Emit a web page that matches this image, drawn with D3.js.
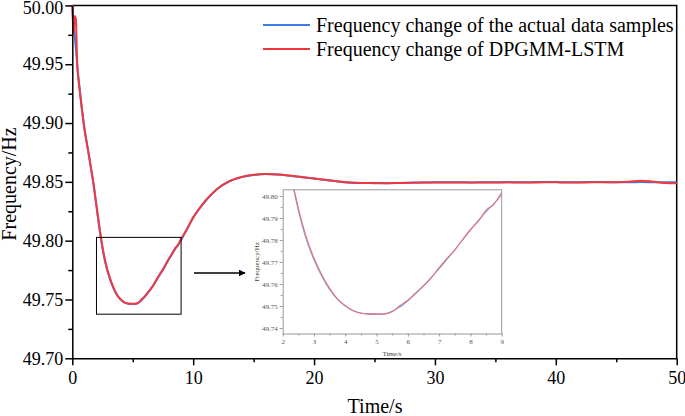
<!DOCTYPE html>
<html>
<head>
<meta charset="utf-8">
<style>
  body { margin: 0; background: #fff; }
  svg { display: block; font-family: "Liberation Serif", "Times New Roman", serif; }
  .axis path, .axis line { stroke: #000; stroke-width: 1.5; }
  .axis text { font-size: 18px; fill: #000; font-family: "Liberation Serif", serif; }
  .inset path, .inset line { stroke: #999; stroke-width: 1; }
  .inset text { font-size: 7px; fill: #555; font-family: "Liberation Serif", serif; }
</style>
</head>
<body>
<svg width="685" height="416"></svg>
<script src="https://cdn.jsdelivr.net/npm/d3@7"></script>
<script>
// time axis (s)
var time = [0, 0.1, 0.2, 0.3, 0.4, 0.6, 0.8, 1, 1.25, 1.5, 1.75, 2, 2.25, 2.5, 2.75, 3, 3.25, 3.5, 3.75, 4,
  4.25, 4.5, 4.75, 5, 5.25, 5.5, 5.75, 6, 6.25, 6.5, 6.75, 7, 7.25, 7.5, 7.75, 8, 8.25, 8.5, 8.75, 9,
  9.5, 10, 10.5, 11, 12, 13, 14, 15, 16, 17, 18, 19, 20, 21, 22, 23, 24, 25, 26, 27, 28, 29, 30,
  31, 32, 33, 34, 35, 36, 37, 38, 39, 40, 41, 42, 43, 44, 45, 46, 47, 48, 49, 50];

// actual data samples
var actual = [50.000, 49.984, 49.974, 49.963, 49.950, 49.930, 49.912, 49.896, 49.880, 49.864, 49.848, 49.829, 49.810,
  49.7935, 49.7805, 49.7710, 49.7635, 49.7575, 49.7530, 49.7500, 49.7480, 49.7468, 49.7463, 49.7462, 49.7464,
  49.7476, 49.7496, 49.7524, 49.7556, 49.7592, 49.7630, 49.7670, 49.7712, 49.7755, 49.7800, 49.7845, 49.7888,
  49.7928, 49.7965, 49.8005, 49.8100, 49.8195, 49.8270, 49.8335, 49.8440, 49.8505, 49.8540, 49.8558, 49.8566,
  49.8562, 49.8552, 49.8540, 49.8528, 49.8515, 49.8502, 49.8493, 49.8490, 49.8490, 49.8489, 49.8490, 49.8493,
  49.8495, 49.8496, 49.8497, 49.8496, 49.8495, 49.8496, 49.8497, 49.8497, 49.8496, 49.8497, 49.8499, 49.8498,
  49.8497, 49.8497, 49.8499, 49.8498, 49.8497, 49.8497, 49.8498, 49.8497, 49.8496, 49.8496];

// DPGMM-LSTM prediction
var predicted = [50.000, 49.976, 49.991, 49.988, 49.952, 49.929, 49.911, 49.895, 49.880, 49.865, 49.849, 49.830, 49.811,
  49.7945, 49.7815, 49.7718, 49.7642, 49.7580, 49.7532, 49.7502, 49.7478, 49.7467, 49.7464, 49.7464, 49.7463,
  49.7474, 49.7502, 49.7526, 49.7560, 49.7590, 49.7628, 49.7674, 49.7716, 49.7754, 49.7802, 49.7848, 49.7884,
  49.7936, 49.7962, 49.8015, 49.8100, 49.8198, 49.8272, 49.8338, 49.8442, 49.8507, 49.8542, 49.8560, 49.8567,
  49.8563, 49.8553, 49.8541, 49.8529, 49.8516, 49.8503, 49.8494, 49.8490, 49.8489, 49.8488, 49.8490, 49.8492,
  49.8494, 49.8495, 49.8494, 49.8494, 49.8495, 49.8494, 49.8495, 49.8496, 49.8495, 49.8495, 49.8496, 49.8496,
  49.8495, 49.8495, 49.8496, 49.8496, 49.8496, 49.8500, 49.8510, 49.8502, 49.8490, 49.8488];

var xTicks = [0, 10, 20, 30, 40, 50];
var yTicks = [49.70, 49.75, 49.80, 49.85, 49.90, 49.95, 50.00];
var insetXTicks = [2, 3, 4, 5, 6, 7, 8, 9];
var insetYTicks = [49.74, 49.75, 49.76, 49.77, 49.78, 49.79, 49.80];
var zoomBox = { t0: 2, t1: 9, f0: 49.7375, f1: 49.8028 };

var seriesNames = ["Frequency change of the actual data samples", "Frequency change of DPGMM-LSTM"];
var colors = ["#3b7ce6", "#f0393f"];
var insetColors = ["#6b9ff0", "#f07070"];

var svg = d3.select("svg");

var x = d3.scaleLinear().domain([0, 50]).range([72.3, 676.7]),
    y = d3.scaleLinear().domain([49.70, 50.00]).range([358.3, 5.4]);

var series = [actual, predicted].map(function(vals) {
  return vals.map(function(v, i) { return { t: time[i], f: v }; });
});

var line = d3.line()
  .x(function(d) { return x(d.t); })
  .y(function(d) { return y(d.f); })
  .curve(d3.curveMonotoneX);

// frame (top + right)
svg.append("path")
  .attr("d", "M" + x(0) + "," + y(50) + "H" + x(50) + "V" + y(49.70))
  .attr("fill", "none").attr("stroke", "#000").attr("stroke-width", 1.5);

svg.selectAll(".main-line")
  .data(series)
  .enter().append("path")
  .attr("class", "main-line")
  .attr("fill", "none")
  .attr("stroke", function(d, i) { return colors[i]; })
  .attr("stroke-width", 2)
  .attr("d", line);

// minor ticks
svg.append("g").attr("class", "axis")
  .attr("transform", "translate(0," + y(49.70) + ")")
  .call(d3.axisBottom(x).tickValues([5, 15, 25, 35, 45]).tickSize(4).tickFormat(""))
  .select(".domain").remove();
svg.append("g").attr("class", "axis")
  .attr("transform", "translate(" + x(0) + ",0)")
  .call(d3.axisLeft(y).tickValues([49.725, 49.775, 49.825, 49.875, 49.925, 49.975]).tickSize(4).tickFormat(""))
  .select(".domain").remove();

// main axes
svg.append("g").attr("class", "axis")
  .attr("transform", "translate(0," + y(49.70) + ")")
  .call(d3.axisBottom(x).tickValues(xTicks).tickSize(7).tickSizeOuter(0).tickPadding(6).tickFormat(d3.format("d")));
var yAxis = svg.append("g").attr("class", "axis")
  .attr("transform", "translate(" + x(0) + ",0)")
  .call(d3.axisLeft(y).tickValues(yTicks).tickSize(7).tickSizeOuter(0).tickPadding(2).tickFormat(d3.format(".2f")));
// keep the top label inside the picture
yAxis.selectAll(".tick text").filter(function(d) { return d === 50; }).attr("dy", "0.45em");

svg.append("text")
  .attr("x", 375).attr("y", 413)
  .attr("text-anchor", "middle")
  .attr("font-size", 20)
  .text("Time/s");

svg.append("text")
  .attr("transform", "translate(16,184) rotate(-90)")
  .attr("text-anchor", "middle")
  .attr("font-size", 20)
  .text("Frequency/Hz");

// legend
var legend = svg.selectAll(".legend")
  .data(seriesNames)
  .enter().append("g")
  .attr("class", "legend")
  .attr("transform", function(d, i) { return "translate(263," + (25 + i * 24) + ")"; });
legend.append("line")
  .attr("x1", 0).attr("x2", 47)
  .attr("stroke", function(d, i) { return colors[i]; })
  .attr("stroke-width", 2);
legend.append("text")
  .attr("x", 53).attr("y", 6.5)
  .attr("font-size", 20)
  .text(function(d) { return d; });

// zoom rectangle
svg.append("rect")
  .attr("x", x(zoomBox.t0)).attr("y", y(zoomBox.f1))
  .attr("width", x(zoomBox.t1) - x(zoomBox.t0))
  .attr("height", y(zoomBox.f0) - y(zoomBox.f1))
  .attr("fill", "none").attr("stroke", "#000").attr("stroke-width", 1);

// arrow
svg.append("defs").append("marker")
  .attr("id", "arrow").attr("viewBox", "0 0 10 10")
  .attr("refX", 9).attr("refY", 5)
  .attr("markerWidth", 7).attr("markerHeight", 7)
  .attr("markerUnits", "userSpaceOnUse")
  .attr("orient", "auto")
  .append("path").attr("d", "M0,0L10,5L0,10z").attr("fill", "#000");
svg.append("line")
  .attr("x1", 194).attr("x2", 245)
  .attr("y1", 273).attr("y2", 273)
  .attr("stroke", "#000").attr("stroke-width", 1.5)
  .attr("marker-end", "url(#arrow)");

// inset
var ix = d3.scaleLinear().domain([zoomBox.t0, zoomBox.t1]).range([282.7, 501.7]),
    iy = d3.scaleLinear().domain([zoomBox.f0, zoomBox.f1]).range([333.5, 189.8]);

svg.append("clipPath").attr("id", "inset-clip")
  .append("rect")
  .attr("x", ix(2)).attr("y", iy(zoomBox.f1))
  .attr("width", ix(9) - ix(2)).attr("height", iy(zoomBox.f0) - iy(zoomBox.f1));

var iline = d3.line()
  .x(function(d) { return ix(d.t); })
  .y(function(d) { return iy(d.f); })
  .curve(d3.curveMonotoneX);

svg.append("g").attr("clip-path", "url(#inset-clip)")
  .selectAll("path")
  .data(series)
  .enter().append("path")
  .attr("fill", "none")
  .attr("stroke", function(d, i) { return insetColors[i]; })
  .attr("stroke-width", 1.1)
  .attr("d", function(d) { return iline(d.filter(function(p) { return p.t >= 1.5 && p.t <= 9.5; })); });

svg.append("path")
  .attr("d", "M" + ix(2) + "," + iy(zoomBox.f1) + "H" + ix(9) + "V" + iy(zoomBox.f0))
  .attr("fill", "none").attr("stroke", "#999").attr("stroke-width", 1);

svg.append("g").attr("class", "inset")
  .attr("transform", "translate(0," + iy(zoomBox.f0) + ")")
  .call(d3.axisBottom(ix).tickValues([2.5, 3.5, 4.5, 5.5, 6.5, 7.5, 8.5]).tickSize(2).tickFormat(""))
  .select(".domain").remove();
svg.append("g").attr("class", "inset")
  .attr("transform", "translate(" + ix(2) + ",0)")
  .call(d3.axisLeft(iy).tickValues([49.745, 49.755, 49.765, 49.775, 49.785, 49.795]).tickSize(2).tickFormat(""))
  .select(".domain").remove();

svg.append("g").attr("class", "inset")
  .attr("transform", "translate(0," + iy(zoomBox.f0) + ")")
  .call(d3.axisBottom(ix).tickValues(insetXTicks).tickSize(3).tickSizeOuter(0).tickPadding(3).tickFormat(d3.format("d")));
svg.append("g").attr("class", "inset")
  .attr("transform", "translate(" + ix(2) + ",0)")
  .call(d3.axisLeft(iy).tickValues(insetYTicks).tickSize(3).tickSizeOuter(0).tickPadding(2).tickFormat(d3.format(".2f")));

svg.append("text")
  .attr("x", 392).attr("y", 356)
  .attr("text-anchor", "middle")
  .attr("font-size", 7).attr("fill", "#444")
  .text("Time/s");
svg.append("text")
  .attr("transform", "translate(259,262) rotate(-90)")
  .attr("text-anchor", "middle")
  .attr("font-size", 7).attr("fill", "#444")
  .text("Frequency/Hz");
</script>
</body>
</html>
